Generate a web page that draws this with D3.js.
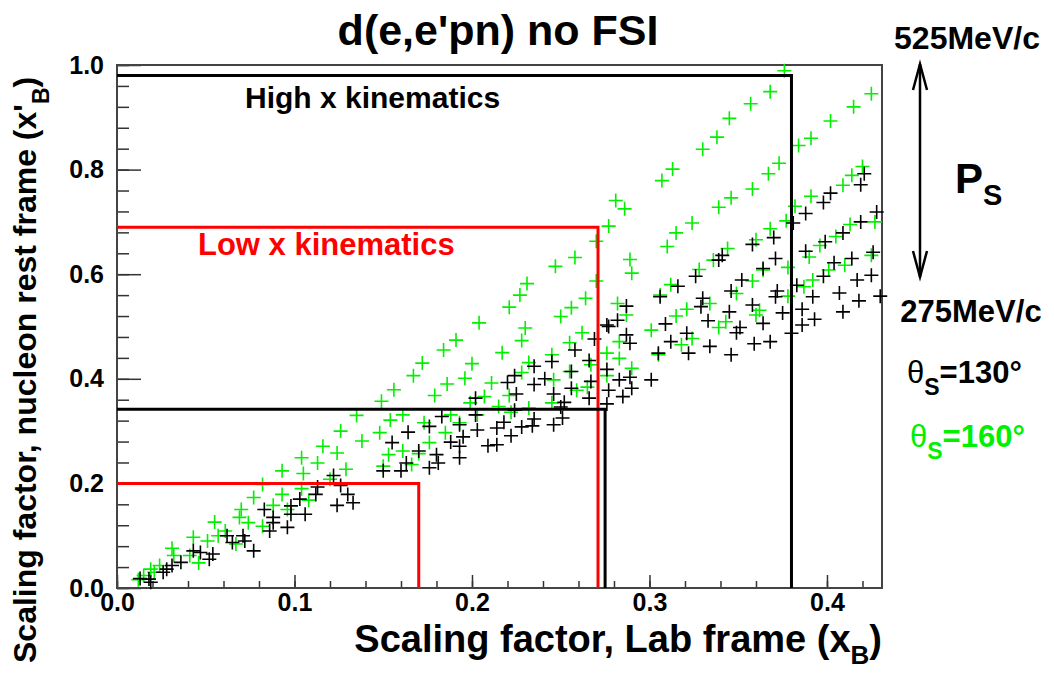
<!DOCTYPE html>
<html>
<head>
<meta charset="utf-8">
<script src="https://cdn.jsdelivr.net/npm/d3@7"></script>
<style>
  body { margin: 0; background: #fff; }
  text { font-family: "Liberation Sans", Arial, sans-serif; font-weight: bold; }
</style>
</head>
<body>
<svg id="chart" width="1054" height="673"></svg>
<script>
// axis ticks
const xTicks = [0, 0.1, 0.2, 0.3, 0.4];
const yTicks = [0, 0.2, 0.4, 0.6, 0.8, 1.0];

// kinematic boxes: [x_B upper edge, x'_B upper edge]
const lowXBoxes = [[0.17, 0.2], [0.271, 0.69]];
const highXBoxes = [[0.275, 0.342], [0.38, 0.98]];

// theta_s = 160 deg (green points), [x_B, x'_B]
const theta160 = [
  [0.012,0.016],[0.015,0.024],[0.019,0.036],[0.021,0.030],[0.024,0.043],[0.032,0.062],[0.031,0.076],
  [0.043,0.097],[0.041,0.062],[0.046,0.048],[0.051,0.090],[0.057,0.100],[0.061,0.109],[0.055,0.126],
  [0.067,0.084],[0.069,0.135],[0.070,0.150],[0.074,0.125],[0.082,0.118],[0.077,0.173],[0.082,0.198],
  [0.088,0.158],[0.093,0.179],[0.093,0.224],[0.096,0.150],[0.104,0.190],[0.108,0.168],[0.104,0.249],
  [0.105,0.219],[0.113,0.239],[0.116,0.271],[0.124,0.258],[0.120,0.208],[0.129,0.227],[0.126,0.300],
  [0.135,0.330],[0.138,0.281],[0.148,0.297],[0.149,0.357],[0.156,0.379],[0.154,0.321],[0.153,0.255],
  [0.150,0.233],[0.161,0.331],[0.161,0.262],[0.166,0.236],[0.167,0.406],[0.170,0.257],[0.172,0.430],
  [0.173,0.316],[0.176,0.278],[0.179,0.368],[0.184,0.455],[0.185,0.297],[0.186,0.390],[0.188,0.331],
  [0.191,0.474],[0.193,0.316],[0.196,0.401],[0.199,0.354],[0.200,0.429],[0.203,0.331],[0.204,0.507],
  [0.207,0.366],[0.211,0.392],[0.215,0.347],[0.217,0.450],[0.221,0.537],[0.221,0.368],[0.222,0.336],
  [0.227,0.560],[0.228,0.473],[0.228,0.412],[0.230,0.497],[0.231,0.582],[0.232,0.431],[0.232,0.344],
  [0.245,0.354],[0.245,0.446],[0.246,0.398],[0.247,0.615],[0.250,0.519],[0.255,0.414],[0.256,0.536],
  [0.255,0.469],[0.258,0.632],[0.259,0.378],[0.262,0.488],[0.265,0.384],[0.264,0.554],[0.267,0.427],
  [0.270,0.663],[0.270,0.587],[0.276,0.406],[0.276,0.449],[0.277,0.692],[0.281,0.741],[0.282,0.544],
  [0.283,0.439],[0.283,0.471],[0.286,0.725],[0.287,0.522],[0.289,0.628],[0.290,0.602],[0.290,0.420],
  [0.301,0.493],[0.305,0.446],[0.306,0.560],[0.307,0.779],[0.310,0.653],[0.312,0.580],[0.313,0.801],
  [0.315,0.679],[0.315,0.520],[0.318,0.465],[0.321,0.533],[0.324,0.698],[0.324,0.477],[0.328,0.609],
  [0.330,0.839],[0.334,0.544],[0.336,0.627],[0.338,0.862],[0.339,0.728],[0.339,0.498],[0.343,0.509],
  [0.344,0.649],[0.345,0.898],[0.346,0.746],[0.349,0.563],[0.357,0.926],[0.358,0.763],[0.358,0.587],
  [0.360,0.666],[0.360,0.522],[0.362,0.531],[0.364,0.608],[0.367,0.792],[0.368,0.687],[0.368,0.949],
  [0.373,0.812],[0.376,0.989],[0.377,0.702],[0.378,0.613],[0.378,0.558],[0.382,0.730],[0.384,0.846],
  [0.387,0.576],[0.390,0.633],[0.391,0.860],[0.391,0.749],[0.392,0.589],[0.396,0.655],[0.401,0.608],
  [0.402,0.893],[0.405,0.672],[0.409,0.770],[0.410,0.617],[0.413,0.695],[0.414,0.789],[0.415,0.920],
  [0.420,0.806],[0.425,0.945],[0.425,0.636],[0.427,0.700]
];

// theta_s = 130 deg (black points), [x_B, x'_B]
const theta130 = [
  [0.013,0.018],[0.018,0.017],[0.019,0.011],[0.026,0.030],[0.028,0.036],[0.031,0.043],[0.036,0.049],
  [0.043,0.071],[0.047,0.068],[0.052,0.055],[0.054,0.065],[0.062,0.100],[0.065,0.087],[0.071,0.100],
  [0.072,0.090],[0.077,0.071],[0.083,0.150],[0.086,0.109],[0.088,0.135],[0.088,0.125],[0.096,0.116],
  [0.098,0.141],[0.098,0.157],[0.103,0.170],[0.106,0.141],[0.112,0.179],[0.113,0.193],[0.122,0.215],
  [0.124,0.158],[0.126,0.196],[0.130,0.179],[0.133,0.163],[0.150,0.224],[0.155,0.278],[0.160,0.224],
  [0.163,0.239],[0.164,0.298],[0.170,0.262],[0.176,0.230],[0.176,0.309],[0.180,0.255],[0.181,0.239],
  [0.183,0.328],[0.188,0.279],[0.193,0.271],[0.193,0.249],[0.193,0.312],[0.195,0.289],[0.202,0.363],
  [0.202,0.331],[0.203,0.302],[0.209,0.272],[0.214,0.274],[0.214,0.306],[0.218,0.317],[0.220,0.393],
  [0.222,0.291],[0.224,0.406],[0.224,0.340],[0.225,0.371],[0.228,0.308],[0.234,0.310],[0.235,0.323],
  [0.235,0.389],[0.235,0.424],[0.241,0.400],[0.245,0.433],[0.246,0.371],[0.246,0.312],[0.250,0.346],
  [0.251,0.325],[0.252,0.355],[0.256,0.382],[0.256,0.414],[0.258,0.455],[0.266,0.435],[0.266,0.363],
  [0.267,0.395],[0.269,0.476],[0.276,0.418],[0.276,0.503],[0.276,0.352],[0.277,0.378],[0.277,0.500],
  [0.282,0.512],[0.283,0.398],[0.285,0.366],[0.287,0.539],[0.287,0.484],[0.289,0.468],[0.289,0.403],
  [0.290,0.382],[0.301,0.398],[0.305,0.449],[0.306,0.557],[0.309,0.505],[0.312,0.471],[0.316,0.577],
  [0.321,0.487],[0.322,0.449],[0.326,0.596],[0.329,0.538],[0.330,0.554],[0.333,0.511],[0.334,0.462],
  [0.339,0.627],[0.341,0.636],[0.345,0.528],[0.346,0.568],[0.346,0.446],[0.349,0.488],[0.351,0.498],
  [0.352,0.589],[0.358,0.657],[0.358,0.541],[0.359,0.467],[0.364,0.611],[0.364,0.506],[0.368,0.471],
  [0.370,0.670],[0.371,0.630],[0.371,0.557],[0.372,0.568],[0.375,0.526],[0.380,0.487],[0.381,0.698],
  [0.383,0.579],[0.386,0.533],[0.386,0.503],[0.388,0.716],[0.388,0.644],[0.392,0.557],[0.393,0.514],
  [0.398,0.596],[0.398,0.737],[0.399,0.662],[0.402,0.755],[0.404,0.622],[0.407,0.564],[0.409,0.679],
  [0.409,0.528],[0.414,0.630],[0.417,0.589],[0.418,0.549],[0.419,0.771],[0.419,0.700],[0.421,0.792],
  [0.425,0.598],[0.426,0.642],[0.428,0.719],[0.430,0.558]
];

const svg = d3.select("#chart");
const margin = { top: 65, right: 172, bottom: 85, left: 117 };
const width = +svg.attr("width");
const height = +svg.attr("height");

const x = d3.scaleLinear().domain([0, 0.431]).range([margin.left, width - margin.right]);
const y = d3.scaleLinear().domain([0, 1.0]).range([height - margin.bottom, margin.top]);

// minor ticks first, then major ticks (ROOT style, pointing inward)
svg.append("g")
  .attr("transform", `translate(0, ${y(0)})`)
  .call(d3.axisBottom(x).tickValues(d3.range(0, 0.431, 0.02)).tickSize(-7).tickFormat(""))
  .call(g => g.select(".domain").remove());

svg.append("g")
  .attr("transform", `translate(${x(0)}, 0)`)
  .call(d3.axisLeft(y).tickValues(d3.range(0, 1.001, 0.04)).tickSize(-12).tickFormat(""))
  .call(g => g.select(".domain").remove());

const xAxis = svg.append("g")
  .attr("transform", `translate(0, ${y(0)})`)
  .call(d3.axisBottom(x).tickValues(xTicks).tickSize(-13).tickPadding(5).tickFormat(d3.format(".1f")));
xAxis.select(".domain").remove();

const yAxis = svg.append("g")
  .attr("transform", `translate(${x(0)}, 0)`)
  .call(d3.axisLeft(y).tickValues(yTicks).tickSize(-24).tickPadding(13).tickFormat(d3.format(".1f")));
yAxis.select(".domain").remove();

svg.selectAll(".tick line").attr("stroke", "#333").attr("stroke-width", 1.5);
svg.selectAll(".tick text")
  .attr("font-size", 25)
  .attr("font-family", "'Liberation Sans', Arial, sans-serif")
  .attr("font-weight", "bold")
  .attr("fill", "#000");

// frame
svg.append("rect")
  .attr("x", x(0)).attr("y", y(1.0))
  .attr("width", x(0.431) - x(0)).attr("height", y(0) - y(1.0))
  .attr("fill", "none").attr("stroke", "#444").attr("stroke-width", 2);

// scatter markers (+)
const cross = "M-7,0H7M0,-7V7";
svg.append("g").selectAll("path")
  .data(theta160).enter().append("path")
  .attr("d", cross)
  .attr("transform", d => `translate(${x(d[0])}, ${y(d[1])})`)
  .attr("stroke", "#00f000").attr("stroke-width", 1.6).attr("fill", "none");

svg.append("g").selectAll("path")
  .data(theta130).enter().append("path")
  .attr("d", cross)
  .attr("transform", d => `translate(${x(d[0])}, ${y(d[1])})`)
  .attr("stroke", "#000").attr("stroke-width", 1.6).attr("fill", "none");

// kinematic boxes
const boxLine = d => `M${x(0)},${y(d[1])}H${x(d[0])}V${y(0)}`;
svg.append("g").selectAll("path").data(lowXBoxes).enter().append("path")
  .attr("d", boxLine).attr("fill", "none").attr("stroke", "#ff0000").attr("stroke-width", 3);
svg.append("g").selectAll("path").data(highXBoxes).enter().append("path")
  .attr("d", boxLine).attr("fill", "none").attr("stroke", "#000").attr("stroke-width", 3);

svg.append("text").attr("x", 245).attr("y", 108).attr("font-size", 30).text("High x kinematics");
svg.append("text").attr("x", 198).attr("y", 255).attr("font-size", 31).attr("fill", "#ff0000").text("Low x kinematics");

// title
svg.append("text").attr("x", 498).attr("y", 45).attr("text-anchor", "middle")
  .attr("font-size", 43).text("d(e,e'pn) no FSI");

// x axis title
const xt = svg.append("text").attr("x", 882).attr("y", 652).attr("text-anchor", "end").attr("font-size", 38);
xt.append("tspan").text("Scaling factor, Lab frame (x");
xt.append("tspan").attr("dy", 12).attr("font-size", 26).text("B");
xt.append("tspan").attr("dy", -12).text(")");

// y axis title
const yt = svg.append("text").attr("transform", "translate(36, 663) rotate(-90)").attr("font-size", 32);
yt.append("tspan").text("Scaling factor, nucleon rest frame (x'");
yt.append("tspan").attr("dy", 13).attr("font-size", 23).text("B");
yt.append("tspan").attr("dy", -13).text(")");

// P_s range annotation
svg.append("text").attr("x", 967).attr("y", 49).attr("text-anchor", "middle").attr("font-size", 32).text("525MeV/c");
svg.append("text").attr("x", 971).attr("y", 322).attr("text-anchor", "middle").attr("font-size", 31).text("275MeV/c");

const arrow = svg.append("g").attr("stroke", "#000").attr("stroke-width", 2.5).attr("fill", "none");
arrow.append("path").attr("d", "M920,64V277");
arrow.append("path").attr("d", "M913,90L920,64L927,90");
arrow.append("path").attr("d", "M913,251L920,277L927,251");

const ps = svg.append("text").attr("x", 955).attr("y", 193).attr("font-size", 42);
ps.append("tspan").text("P");
ps.append("tspan").attr("dy", 12).attr("font-size", 29).text("S");

const t1 = svg.append("text").attr("x", 907).attr("y", 383).attr("font-size", 31);
t1.append("tspan").attr("font-weight", "normal").text("θ");
t1.append("tspan").attr("dy", 12).attr("font-size", 23).text("S");
t1.append("tspan").attr("dy", -12).text("=130°");

const t2 = svg.append("text").attr("x", 910).attr("y", 447).attr("font-size", 31).attr("fill", "#00f000");
t2.append("tspan").attr("font-weight", "normal").text("θ");
t2.append("tspan").attr("dy", 12).attr("font-size", 23).text("S");
t2.append("tspan").attr("dy", -12).text("=160°");
</script>
</body>
</html>
